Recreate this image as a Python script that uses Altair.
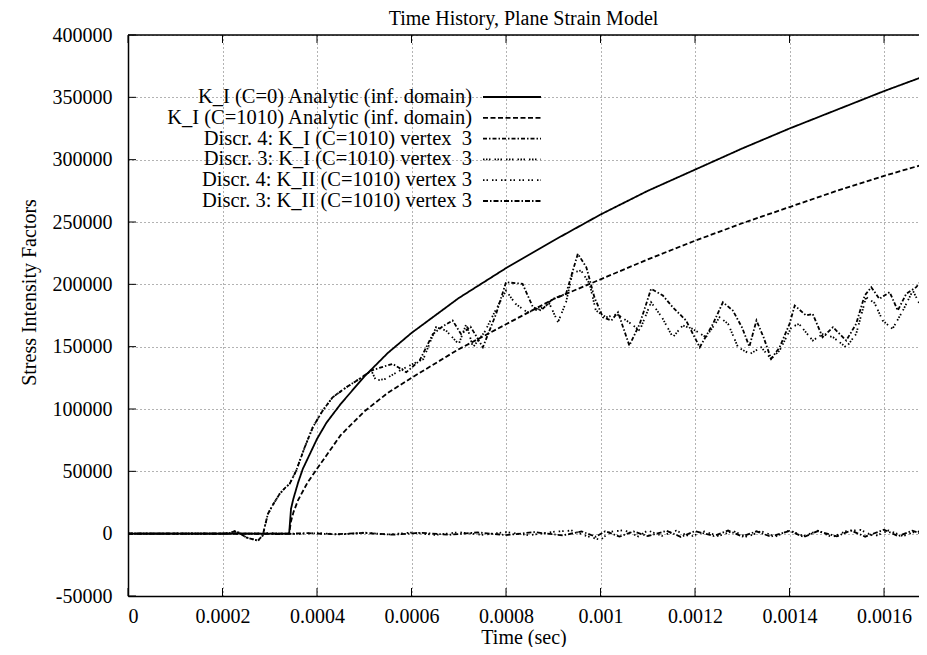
import altair as alt
import pandas as pd

FONT = "Liberation Serif"

# ---------------- data ----------------
x_ticks = [0, 0.0002, 0.0004, 0.0006, 0.0008, 0.001, 0.0012, 0.0014, 0.0016]
y_ticks = [-50000, 0, 50000, 100000, 150000, 200000, 250000, 300000, 350000, 400000]

names = [
    "K_I (C=0) Analytic (inf. domain)",
    "K_I (C=1010) Analytic (inf. domain)",
    "Discr. 4: K_I (C=1010) vertex\u00a0 3",
    "Discr. 3: K_I (C=1010) vertex\u00a0 3",
    "Discr. 4: K_II (C=1010) vertex 3",
    "Discr. 3: K_II (C=1010) vertex 3",
]

# K_I (C=0) analytic
t_a0 = [0, 0.000341, 0.000345, 0.00035, 0.00036, 0.00037, 0.00038, 0.0004, 0.00042, 0.00045,
        0.0005, 0.00055, 0.0006, 0.00065, 0.0007, 0.00075, 0.0008, 0.0009, 0.001, 0.0011,
        0.0012, 0.0013, 0.0014, 0.0015, 0.0016, 0.0017]
v_a0 = [0, 0, 20000, 28000, 41000, 52000, 60000, 76000, 89000, 104000,
        126000, 145000, 161000, 175000, 189000, 201000, 213000, 235000, 256000, 275000,
        292000, 309000, 325000, 340000, 355000, 369000]

# K_I (C=1010) analytic
t_a1 = [0, 0.000341, 0.000345, 0.00035, 0.00036, 0.00038, 0.0004, 0.00045, 0.0005, 0.00055,
        0.0006, 0.0007, 0.0008, 0.0009, 0.001, 0.0011, 0.0012, 0.0013, 0.0014, 0.0015,
        0.0016, 0.0017]
v_a1 = [0, 0, 10000, 17000, 27000, 41000, 52000, 79000, 98000, 113000,
        125000, 148000, 168000, 188000, 204000, 220000, 235000, 249000, 262000, 275000,
        287000, 298000]

# common early part of the numerical K_I curves
t_early = [0, 0.0002, 0.000215, 0.000225, 0.000235, 0.00025, 0.000265, 0.000275, 0.000285,
           0.000296, 0.000308, 0.000321, 0.000333, 0.000342, 0.000356, 0.000374, 0.000391,
           0.000412, 0.000433, 0.000462, 0.00049, 0.000515]
v_early = [0, 0, 500, 1900, 800, -3000, -4500, -5600, -1500,
           15800, 24000, 31900, 37000, 39900, 50600, 69300, 85300,
           98700, 109400, 117400, 124200, 130800]

# Discr. 4 K_I (after the common part)
t_d4 = [0.000532, 0.00056, 0.000589, 0.000617, 0.000645, 0.000665, 0.000687, 0.000705, 0.000725,
        0.000751, 0.000779, 0.0008, 0.000835, 0.000857, 0.000874, 0.000899, 0.000927, 0.000952,
        0.00097, 0.000987, 0.001005, 0.001023, 0.001037, 0.001061, 0.001083, 0.001107, 0.001132,
        0.001153, 0.001181, 0.00121, 0.001238, 0.001259, 0.00128, 0.0013, 0.001315, 0.00133,
        0.001345, 0.001361, 0.001379, 0.0014, 0.001411, 0.001435, 0.001449, 0.00147, 0.001492,
        0.00152, 0.001541, 0.001559, 0.001573, 0.00159, 0.001612, 0.001629, 0.001647, 0.001668,
        0.001679, 0.00169]
v_d4 = [133000, 136200, 129500, 138800, 160000, 166000, 171000, 160000, 166000,
        149500, 176300, 201700, 200400, 181600, 179000, 188400, 192400, 224500,
        213700, 189700, 173600, 171000, 177600, 150900, 168300, 196400, 191000,
        181600, 171000, 149500, 168300, 185600, 179000, 165000, 150000, 171000,
        157600, 140200, 149500, 168300, 183000, 175000, 176300, 157600, 165600,
        154900, 168300, 191000, 197700, 188400, 193700, 179000, 192400, 197700,
        203000, 205700]

# Discr. 3 K_I (after the common part)
t_d3 = [0.000525, 0.000545, 0.000575, 0.000603, 0.000625, 0.000652, 0.000673, 0.0007, 0.000716,
        0.00073, 0.000755, 0.000779, 0.0008, 0.00082, 0.000845, 0.00087, 0.000892, 0.00091,
        0.000927, 0.000941, 0.000959, 0.000977, 0.00099, 0.001012, 0.001035, 0.00106, 0.001083,
        0.001107, 0.00113, 0.001153, 0.001174, 0.001195, 0.001223, 0.001252, 0.00127, 0.001291,
        0.001316, 0.00134, 0.001361, 0.001379, 0.001404, 0.00142, 0.001449, 0.00147, 0.001492,
        0.00152, 0.001541, 0.001562, 0.00158, 0.001597, 0.001618, 0.00164, 0.001661, 0.001675,
        0.00169]
v_d3 = [122800, 124200, 130800, 136200, 140000, 165600, 163000, 152000, 168300,
        149500, 162000, 180000, 195000, 184400, 177600, 180000, 184400, 169600,
        185600, 209700, 211000, 200400, 179000, 173600, 176000, 169600, 163000,
        185600, 173600, 157600, 167000, 164300, 157600, 173600, 168300, 149500,
        144200, 149500, 140200, 146900, 165600, 168300, 154900, 160000, 157600,
        149500, 160200, 189700, 185000, 171000, 164300, 179000, 195000, 184400,
        192000]

# Discr. 4 K_II
t_k4 = [0, 0.00025, 0.0003, 0.00035, 0.0004, 0.00045, 0.0005, 0.00055, 0.0006, 0.00065,
        0.0007, 0.00075, 0.0008, 0.00085, 0.0009, 0.00094, 0.00097, 0.001, 0.00102, 0.00105,
        0.00108, 0.0011, 0.00113, 0.00116, 0.00119, 0.00122, 0.00125, 0.00128, 0.00131,
        0.00134, 0.00137, 0.0014, 0.00143, 0.00146, 0.00149, 0.00152, 0.00155, 0.00158,
        0.00161, 0.00164, 0.00167, 0.00169]
v_k4 = [0, 0, 400, -300, 500, -600, 800, -700, 900, -1000,
        1100, -900, 1200, -1300, 1500, 2500, -1800, -5000, 1500, 2800,
        -2200, 2600, -1800, 2400, -2500, 1800, -2000, 2200, -2600,
        2000, -2300, 2700, -2000, 2400, -2800, 2000, 3000, -2200,
        2600, -2000, 2200, -1500]

# Discr. 3 K_II
t_k3 = [0, 0.00025, 0.00032, 0.00038, 0.00044, 0.0005, 0.00056, 0.00062, 0.00068, 0.00074,
        0.0008, 0.00086, 0.00092, 0.00096, 0.00099, 0.00101, 0.00104, 0.00107, 0.0011,
        0.00114, 0.00117, 0.0012, 0.00124, 0.00127, 0.0013, 0.00133, 0.00136, 0.0014,
        0.00143, 0.00146, 0.0015, 0.00153, 0.00156, 0.0016, 0.00163, 0.00166, 0.00169]
v_k3 = [0, 0, -300, 400, -500, 600, -800, 700, -900, 1000,
        -1100, 1200, -1400, 1800, -2500, 2000, -2400, 1800, -2000,
        2300, -2600, 2100, -1900, 2500, -2300, 1900, -2400, 2200,
        -2700, 2100, -2200, 2600, -2400, 3200, -2000, 2400, -1800]

# ---------------- build table ----------------
def frame(ts, vs, name):
    return pd.DataFrame({"t": ts, "v": vs, "series": name})

df = pd.concat([
    frame(t_a0, v_a0, names[0]),
    frame(t_a1, v_a1, names[1]),
    frame(t_early + t_d4, v_early + v_d4, names[2]),
    frame(t_early + t_d3, v_early + v_d3, names[3]),
    frame(t_k4, v_k4, names[4]),
    frame(t_k3, v_k3, names[5]),
], ignore_index=True)

W, H = 791, 561

dashes = [[1, 0], [5, 2.5], [4, 2, 1.5, 2], [1.5, 1.5, 1.5, 1.5, 1.5, 4],
          [1.5, 2, 1.5, 4], [5, 2, 1.5, 2]]
dash_scale = alt.Scale(domain=names, range=dashes)

xs = alt.Scale(domain=[0, 0.001674], nice=False, zero=False)
ys = alt.Scale(domain=[-50000, 400000], nice=False, zero=False)

xaxis = alt.Axis(values=x_ticks, format="~g", labelPadding=20, labelBaseline="middle",
                 labelFont=FONT, labelFontSize=20, labelColor="black",
                 titleY=41, titleBaseline="middle")
yaxis = alt.Axis(values=y_ticks, labelExpr="datum.value + ''", labelPadding=16,
                 labelFont=FONT, labelFontSize=20, labelColor="black",
                 titleAngle=270, titleX=-93, titleY=257, titleBaseline="alphabetic",
                 titleAlign="center")

X = alt.X("t:Q", scale=xs, axis=xaxis, title="Time (sec)")
Y = alt.Y("v:Q", scale=ys, axis=yaxis, title="Stress Intensity Factors")

lines = alt.Chart(df).mark_line(color="black", strokeWidth=1.8, clip=True).encode(
    x=X, y=Y,
    strokeDash=alt.StrokeDash("series:N", scale=dash_scale, legend=None),
)

xt = pd.DataFrame({"t": x_ticks})
yt = pd.DataFrame({"v": y_ticks})
xtick_b = alt.Chart(xt).mark_rule(color="black", strokeWidth=1).encode(
    x=X, y=alt.value(H), y2=alt.value(H - 8))
xtick_t = alt.Chart(xt).mark_rule(color="black", strokeWidth=1).encode(
    x=X, y=alt.value(0), y2=alt.value(8))
ytick = alt.Chart(yt).mark_rule(color="black", strokeWidth=1).encode(
    y=Y, x=alt.value(0), x2=alt.value(8))
# top frame line of the plot box
top_border = alt.Chart(xt.head(1)).mark_rule(color="black", strokeWidth=1.5).encode(
    x=alt.value(0), x2=alt.value(W), y=alt.value(0))

main = alt.layer(lines, xtick_b, xtick_t, ytick, top_border)

leg_df = pd.DataFrame({"series": names})
LY = alt.Y("series:N", scale=alt.Scale(type="point", domain=names, range=[62, 166], padding=0),
           axis=None)
leg_text = alt.Chart(leg_df).mark_text(align="right", baseline="middle", font=FONT,
                                      fontSize=20.5, color="black").encode(
    x=alt.value(344), y=LY, text="series:N")
leg_line = alt.Chart(leg_df).mark_rule(color="black", strokeWidth=1.8).encode(
    x=alt.value(355), x2=alt.value(413), y=LY,
    strokeDash=alt.StrokeDash("series:N", scale=dash_scale, legend=None))
legend = alt.layer(leg_text, leg_line)

chart = alt.layer(main, legend).resolve_scale(y="independent").properties(
    width=W, height=H,
    title=alt.TitleParams("Time History, Plane Strain Model", font=FONT, fontSize=20,
                          fontWeight="normal", anchor="middle", offset=-4, color="black"),
    autosize=alt.AutoSizeParams(type="none"),
    padding={"left": 120, "top": 27, "right": 0, "bottom": 51},
).configure_view(
    stroke=None
).configure_axis(
    labelFont=FONT, labelFontSize=20, labelColor="black",
    titleFont=FONT, titleFontSize=20, titleFontWeight="normal", titleColor="black",
    grid=True, gridDash=[1, 3], gridColor="#000", gridOpacity=0.6, gridWidth=1,
    domain=True, domainColor="black", domainWidth=1.5,
    ticks=False, tickSize=0,
)

chart.save("out.html", embed_options={"renderer": "svg", "actions": False})
